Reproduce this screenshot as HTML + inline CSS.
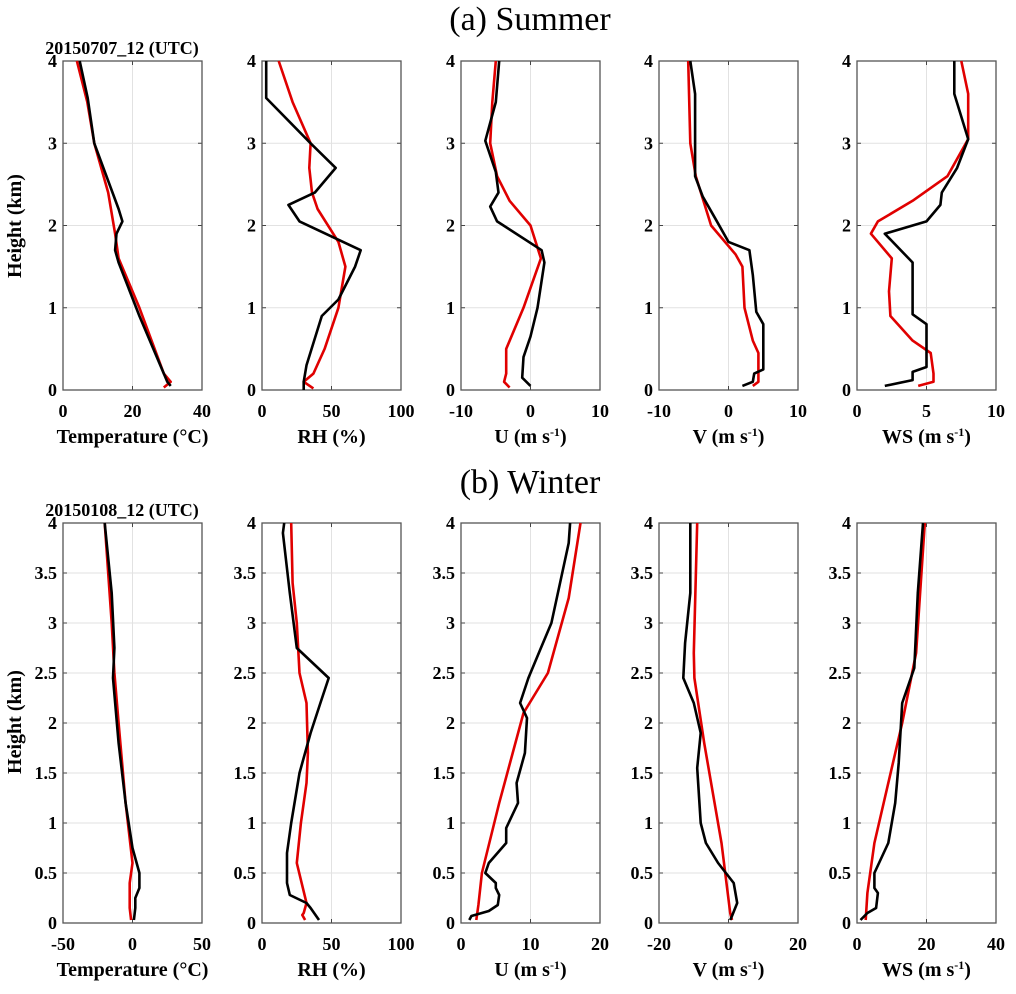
<!DOCTYPE html>
<html><head><meta charset="utf-8"><style>
html,body{margin:0;padding:0;background:#fff;}
svg{display:block;font-family:"Liberation Serif",serif;}
</style></head><body>
<svg id="fig" width="1016" height="994" viewBox="0 0 1016 994" xmlns="http://www.w3.org/2000/svg">
<text x="530" y="30" font-size="34" text-anchor="middle">(a) Summer</text>
<text x="530" y="493" font-size="34" text-anchor="middle">(b) Winter</text>
<text x="122" y="54" font-size="18" font-weight="bold" text-anchor="middle">20150707_12 (UTC)</text>
<text x="122" y="516" font-size="18" font-weight="bold" text-anchor="middle">20150108_12 (UTC)</text>
<text transform="translate(21,226) rotate(-90)" font-size="20" font-weight="bold" text-anchor="middle">Height (km)</text>
<text transform="translate(21,722) rotate(-90)" font-size="20" font-weight="bold" text-anchor="middle">Height (km)</text>
</svg>
<script>
// ---- data arrays (x value, height km) ----
const sTempBlack=[[31,0.05],[30,0.1],[22,0.9],[16,1.55],[15,1.7],[15.4,1.9],[17.1,2.05],[16,2.2],[9,3],[7.1,3.55],[4.8,4]];
const sTempRed=[[29,0.03],[31,0.1],[29,0.2],[22,1.0],[16,1.6],[15,1.9],[13,2.4],[9,3],[7,3.5],[4,4]];
const sRhBlack=[[30,0],[30,0.1],[32,0.3],[43,0.9],[55,1.1],[67,1.5],[71,1.7],[27,2.05],[19,2.25],[38,2.4],[53,2.7],[35,3],[3,3.55],[3,4]];
const sRhRed=[[37,0.02],[30,0.1],[37,0.2],[45,0.5],[55,1.0],[60,1.5],[55,1.8],[40,2.2],[36,2.4],[34,2.7],[35,3],[22,3.5],[12,4]];
const sUBlack=[[0,0.05],[-1.2,0.15],[-1,0.4],[0,0.65],[1,1],[2,1.55],[1.6,1.7],[-4.8,2.05],[-5.8,2.23],[-4.6,2.4],[-5,2.65],[-6.5,3.03],[-5,3.5],[-4.5,4]];
const sURed=[[-3,0.03],[-3.8,0.1],[-3.5,0.2],[-3.5,0.5],[-1,1.0],[1.5,1.6],[0,2.0],[-3,2.3],[-4.8,2.6],[-5.8,3],[-5.5,3.5],[-5,4]];
const sVBlack=[[2,0.05],[3.5,0.1],[3.7,0.2],[5,0.25],[5,0.8],[4,0.95],[3.5,1.4],[3,1.7],[0,1.8],[-2,2.1],[-3.7,2.35],[-4.8,2.6],[-4.8,3.6],[-5.5,4]];
const sVRed=[[3.5,0.05],[4.3,0.1],[4.3,0.45],[3.5,0.6],[2.3,1.0],[2,1.5],[1,1.65],[-2.5,2.0],[-4.7,2.6],[-5.5,3],[-5.8,4]];
const sWsBlack=[[2,0.05],[4,0.12],[4,0.22],[5,0.28],[5,0.8],[4,0.92],[4,1.55],[2,1.9],[5,2.05],[6,2.25],[6.1,2.4],[7.2,2.7],[8,3.05],[7,3.6],[7,4]];
const sWsRed=[[4.4,0.05],[5.5,0.1],[5.5,0.2],[5.3,0.45],[4,0.6],[2.4,0.9],[2.3,1.2],[2.5,1.6],[1,1.9],[1.5,2.05],[4,2.3],[6.5,2.6],[8,3.05],[8,3.6],[7.5,4]];
const wTempBlack=[[1,0.03],[2,0.15],[2,0.25],[5,0.35],[5,0.5],[0,0.75],[-5,1.2],[-10,1.8],[-14,2.45],[-13,2.75],[-15,3.3],[-20,4]];
const wTempRed=[[-1,0.03],[-2,0.15],[-2,0.4],[0,0.6],[-5,1.2],[-10,2],[-13,2.5],[-15,3],[-20,4]];
const wRhBlack=[[41,0.03],[35,0.15],[32,0.2],[20,0.28],[18,0.4],[18,0.7],[21,1.0],[27,1.5],[35,1.9],[42,2.2],[48,2.45],[25,2.75],[20,3.3],[15,3.9],[16,4]];
const wRhRed=[[31,0.03],[29,0.08],[30,0.1],[32,0.2],[25,0.6],[28,1.0],[32,1.4],[33,1.7],[32,2.2],[27,2.5],[25,3],[22,3.4],[21,4]];
const wUBlack=[[1.2,0.03],[1.5,0.07],[4,0.12],[5.3,0.18],[5.5,0.28],[5,0.35],[5,0.4],[3.5,0.5],[4,0.6],[6.5,0.8],[6.5,0.95],[8.2,1.2],[8,1.4],[9.2,1.7],[9.5,2.05],[8.5,2.2],[9.7,2.45],[11.5,2.75],[13,3],[15.5,3.8],[15.7,4]];
const wURed=[[2.2,0.03],[2.5,0.18],[3,0.5],[5.5,1.2],[9,2.1],[12.5,2.5],[15.5,3.25],[17.2,4]];
const wVBlack=[[0.5,0.03],[1,0.07],[2.5,0.2],[1.5,0.4],[-3,0.6],[-6.5,0.8],[-8,1.0],[-9,1.55],[-8,1.9],[-10,2.2],[-13,2.45],[-12.5,2.8],[-11,3.3],[-11,4]];
const wVRed=[[1,0.03],[0.5,0.1],[-2,0.8],[-7,1.8],[-9.8,2.45],[-10,2.7],[-9,4]];
const wWsBlack=[[1,0.03],[3,0.1],[5.5,0.15],[6,0.3],[5,0.35],[5,0.5],[9,0.8],[11,1.2],[12,1.6],[13,2.2],[16.5,2.55],[17.5,3.3],[19,4]];
const wWsRed=[[2.5,0.03],[3,0.3],[5,0.8],[13,2.0],[17,2.7],[19.5,4]];
const summerYTicks=[0,1,2,3,4];
const winterYTicks=[0,0.5,1,1.5,2,2.5,3,3.5,4];
const sXTicks=[[0,20,40],[0,50,100],[-10,0,10],[-10,0,10],[0,5,10]];
const wXTicks=[[-50,0,50],[0,50,100],[0,10,20],[-20,0,20],[0,20,40]];
const xTitles=["Temperature (\u00B0C)","RH (%)","U","V","WS"];

const NS="http://www.w3.org/2000/svg";
const svg=document.getElementById('fig');
function mk(tag,attrs,parent){const e=document.createElementNS(NS,tag);for(const k in attrs)e.setAttribute(k,attrs[k]);(parent||svg).appendChild(e);return e;}
const lefts=[63,262,461,659,857];const W=139;
const names=["temperature","rh","u","v","ws"];
function panel(row,i,top,bottom,yTicks,xTicks,black,red){
  const L=lefts[i],R=L+W;const x0=xTicks[0],x1=xTicks[xTicks.length-1];
  const sx=v=>L+(v-x0)/(x1-x0)*W;const sy=h=>bottom-(h/4)*(bottom-top);
  const g=mk('g',{});
  
  
  yTicks.forEach(t=>{
    const y=sy(t);
    if(t>0&&t<4){const gl=mk('line',{x1:L,x2:R,y1:y,y2:y,stroke:'#e2e2e2','stroke-width':1},g);}
    mk('line',{x1:L,x2:L+4,y1:y,y2:y,stroke:'#444','stroke-width':1},g);
    mk('line',{x1:R-4,x2:R,y1:y,y2:y,stroke:'#444','stroke-width':1},g);
    const tl=mk('text',{x:L-6,y:y+6,'font-size':18,'font-weight':'bold','text-anchor':'end'},g);
    
    
    tl.textContent=String(t);
  });
  xTicks.forEach(t=>{
    const x=sx(t);
    if(t>x0&&t<x1){const gl=mk('line',{x1:x,x2:x,y1:top,y2:bottom,stroke:'#e2e2e2','stroke-width':1},g);}
    mk('line',{x1:x,x2:x,y1:bottom-4,y2:bottom,stroke:'#444','stroke-width':1},g);
    mk('line',{x1:x,x2:x,y1:top,y2:top+4,stroke:'#444','stroke-width':1},g);
    const tl=mk('text',{x:x,y:bottom+27,'font-size':18,'font-weight':'bold','text-anchor':'middle'},g);
    
    
    tl.textContent=String(t);
  });
  const box=mk('rect',{x:L,y:top,width:W,height:bottom-top,fill:'none',stroke:'#555','stroke-width':1.3},g);
  
  
  const pts=a=>a.map(p=>sx(p[0]).toFixed(1)+','+sy(p[1]).toFixed(1)).join(' ');
  const lr=mk('polyline',{points:pts(red),fill:'none',stroke:'#e00000','stroke-width':2.6,'stroke-linejoin':'round'},g);
  
  
  const lb=mk('polyline',{points:pts(black),fill:'none',stroke:'#000','stroke-width':2.6,'stroke-linejoin':'round'},g);
  
  
  const xt=mk('text',{x:L+W/2,y:bottom+53,'font-size':20,'font-weight':'bold','text-anchor':'middle'},g);
  
  
  if(i<2){xt.textContent=xTitles[i];}
  else{xt.innerHTML=xTitles[i]+' (m s<tspan dy="-7" font-size="12">-1</tspan><tspan dy="7">)</tspan>';}
}
const sB=[sTempBlack,sRhBlack,sUBlack,sVBlack,sWsBlack],sR=[sTempRed,sRhRed,sURed,sVRed,sWsRed];
const wB=[wTempBlack,wRhBlack,wUBlack,wVBlack,wWsBlack],wR=[wTempRed,wRhRed,wURed,wVRed,wWsRed];
for(let i=0;i<5;i++){panel('summer',i,61,390,summerYTicks,sXTicks[i],sB[i],sR[i]);}
for(let i=0;i<5;i++){panel('winter',i,523,923,winterYTicks,wXTicks[i],wB[i],wR[i]);}
</script>
</body></html>
